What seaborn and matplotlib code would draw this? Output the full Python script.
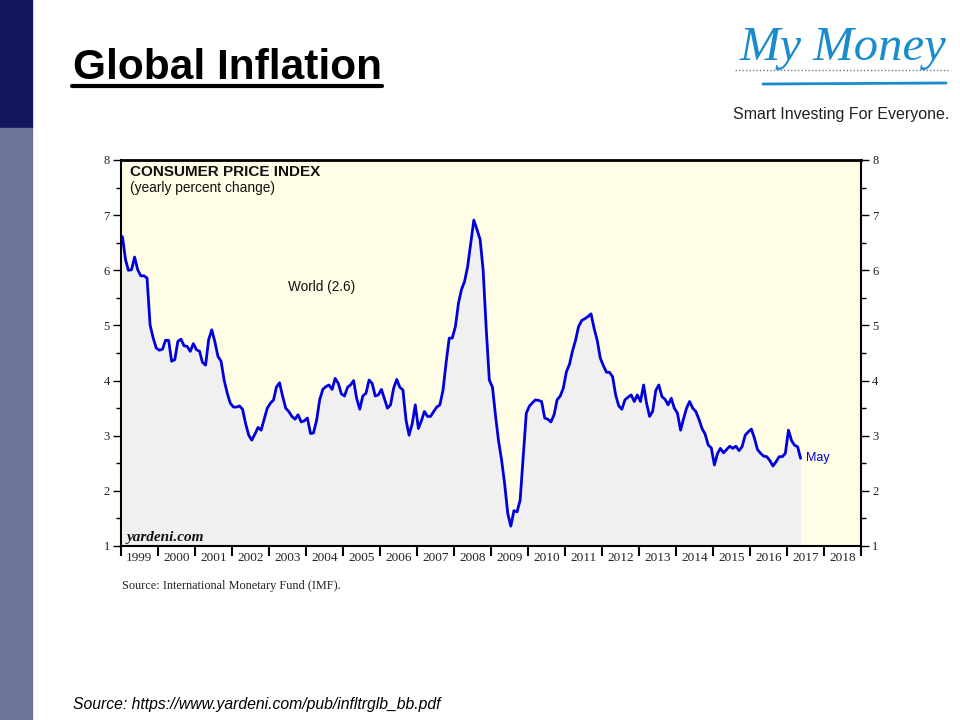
import pandas as pd
import seaborn as sns
import matplotlib.pyplot as plt
import matplotlib.dates as mdates
from matplotlib.ticker import NullFormatter, MultipleLocator
from matplotlib.lines import Line2D
from matplotlib.patches import Rectangle

#######################################
# data: world CPI, yearly percent change, monthly
#######################################
cpi_1999 = [6.61, 6.19, 6.00, 6.01, 6.24, 6.01, 5.90, 5.90, 5.86, 5.01, 4.77, 4.59]
cpi_2000 = [4.55, 4.57, 4.73, 4.73, 4.35, 4.38, 4.71, 4.75, 4.63, 4.62, 4.53, 4.67]
cpi_2001 = [4.56, 4.53, 4.33, 4.28, 4.74, 4.92, 4.71, 4.44, 4.35, 4.01, 3.77, 3.59]
cpi_2002 = [3.52, 3.52, 3.54, 3.48, 3.22, 3.01, 2.92, 3.03, 3.15, 3.10, 3.30, 3.50]
cpi_2003 = [3.59, 3.65, 3.88, 3.96, 3.72, 3.50, 3.44, 3.35, 3.30, 3.38, 3.25, 3.27]
cpi_2004 = [3.32, 3.04, 3.05, 3.28, 3.65, 3.84, 3.89, 3.92, 3.84, 4.04, 3.95, 3.76]
cpi_2005 = [3.72, 3.88, 3.92, 4.00, 3.68, 3.48, 3.72, 3.77, 4.01, 3.95, 3.72, 3.74]
cpi_2006 = [3.84, 3.66, 3.50, 3.56, 3.86, 4.02, 3.88, 3.83, 3.28, 3.01, 3.22, 3.56]
cpi_2007 = [3.13, 3.28, 3.44, 3.35, 3.35, 3.44, 3.52, 3.56, 3.83, 4.32, 4.77, 4.77]
cpi_2008 = [4.98, 5.41, 5.65, 5.80, 6.07, 6.50, 6.91, 6.74, 6.56, 6.00, 4.92, 4.01]
cpi_2009 = [3.88, 3.35, 2.92, 2.56, 2.13, 1.59, 1.36, 1.64, 1.62, 1.83, 2.62, 3.41]
cpi_2010 = [3.54, 3.60, 3.65, 3.64, 3.62, 3.32, 3.30, 3.25, 3.38, 3.65, 3.72, 3.86]
cpi_2011 = [4.16, 4.30, 4.53, 4.73, 4.98, 5.09, 5.12, 5.16, 5.21, 4.95, 4.73, 4.41]
cpi_2012 = [4.27, 4.15, 4.15, 4.07, 3.74, 3.54, 3.48, 3.65, 3.70, 3.74, 3.62, 3.74]
cpi_2013 = [3.62, 3.92, 3.60, 3.35, 3.44, 3.82, 3.92, 3.71, 3.66, 3.56, 3.68, 3.50]
cpi_2014 = [3.41, 3.10, 3.30, 3.50, 3.62, 3.50, 3.44, 3.30, 3.13, 3.03, 2.83, 2.78]
cpi_2015 = [2.47, 2.68, 2.77, 2.69, 2.75, 2.81, 2.77, 2.81, 2.73, 2.80, 3.01, 3.07]
cpi_2016 = [3.12, 2.95, 2.75, 2.68, 2.63, 2.62, 2.55, 2.45, 2.53, 2.62, 2.62, 2.68]
cpi_2017 = [3.10, 2.91, 2.83, 2.80, 2.59]  # Jan-May

cpi = (cpi_1999 + cpi_2000 + cpi_2001 + cpi_2002 + cpi_2003 + cpi_2004 + cpi_2005
       + cpi_2006 + cpi_2007 + cpi_2008 + cpi_2009 + cpi_2010 + cpi_2011 + cpi_2012
       + cpi_2013 + cpi_2014 + cpi_2015 + cpi_2016 + cpi_2017)
# monthly readings, plotted mid-month
dates = pd.date_range('1999-01-01', periods=len(cpi), freq='MS') + pd.Timedelta(days=14)
df = pd.DataFrame({'date': dates, 'cpi': cpi})

#######################################
# style
#######################################
sns.set_theme(style='white')
plt.rcParams['font.family'] = ['Liberation Serif', 'DejaVu Serif']
sans = ['Liberation Sans', 'DejaVu Sans']

fig = plt.figure(figsize=(9.6, 7.2), dpi=100)
fig.patch.set_facecolor('white')

# left slide bars
fig.patches.append(Rectangle((0, 1 - 128 / 720), 32 / 960, 128 / 720,
                             transform=fig.transFigure, color='#13185e', zorder=0))
fig.patches.append(Rectangle((0, 0), 32 / 960, 1 - 128 / 720,
                             transform=fig.transFigure, color='#6e7399', zorder=0))

# slide title
fig.text(73 / 960, 1 - 79 / 720, 'Global Inflation', family=sans, fontsize=30.5,
         fontweight='bold', color='black', va='baseline', ha='left')
fig.add_artist(Line2D([72 / 960, 382 / 960], [1 - 86 / 720, 1 - 86 / 720],
                      transform=fig.transFigure, color='black', linewidth=3))

# logo
fig.text(843 / 960, 1 - 48 / 720, 'My Money', family=['Liberation Serif', 'DejaVu Serif'],
         style='italic', fontsize=35, color='#1a8ccc', ha='center', va='center')
fig.add_artist(Line2D([735 / 960, 948 / 960], [1 - 70 / 720, 1 - 70 / 720],
                      transform=fig.transFigure, color='#777777', linewidth=1,
                      linestyle=(0, (1, 1.5))))
fig.add_artist(Line2D([763 / 960, 946 / 960], [1 - 84 / 720, 1 - 83 / 720],
                      transform=fig.transFigure, color='#1a8ccc', linewidth=2))
fig.text(841 / 960, 1 - 115 / 720, 'Smart Investing For Everyone.',
         family=sans, fontsize=11.5, color='#222222', ha='center', va='center')

#######################################
# chart
#######################################
ax = fig.add_axes([121 / 960, 1 - 546 / 720, 740 / 960, 386 / 720])
ax.set_facecolor('#fffde6')
ax.fill_between(df['date'], df['cpi'], 1, color='#f0f0f0', zorder=1, linewidth=0)
sns.lineplot(data=df, x='date', y='cpi', color='#0000dd', linewidth=2, ax=ax, zorder=3)

ax.set_xlim(pd.Timestamp('1999-01-01'), pd.Timestamp('2019-01-01'))
ax.set_ylim(1, 8)
ax.set_xlabel('')
ax.set_ylabel('')

ax.xaxis.set_major_locator(mdates.YearLocator())
ax.xaxis.set_major_formatter(NullFormatter())
ax.xaxis.set_minor_locator(mdates.YearLocator(month=7))
ax.xaxis.set_minor_formatter(mdates.DateFormatter('%Y'))
ax.tick_params(axis='x', which='major', direction='out', length=7, width=1.5,
               color='black', bottom=True)
ax.tick_params(axis='x', which='minor', length=0, labelsize=9.5, pad=4,
               labelcolor='#222222')

ax.yaxis.set_major_locator(MultipleLocator(1))
ax.yaxis.set_minor_locator(MultipleLocator(0.5))
ax.tick_params(axis='y', which='both', direction='out', left=True, right=True,
               labelleft=True, labelright=True, color='black')
ax.tick_params(axis='y', which='major', length=6, width=1, labelsize=9, pad=2,
               labelcolor='#222222')
ax.tick_params(axis='y', which='minor', length=3.5, width=1)

for side in ['left', 'right', 'top', 'bottom']:
    ax.spines[side].set_visible(True)
    ax.spines[side].set_color('black')
    ax.spines[side].set_linewidth(1.5)
ax.spines['top'].set_linewidth(2)

# annotations inside the chart
ax.text(0.012, 0.969, 'CONSUMER PRICE INDEX', transform=ax.transAxes, family=sans,
        fontsize=11, fontweight='bold', color='#111111', ha='left', va='center')
ax.text(0.012, 0.927, '(yearly percent change)', transform=ax.transAxes, family=sans,
        fontsize=9.9, color='#111111', ha='left', va='center')
ax.text(0.2257, 0.671, 'World (2.6)', transform=ax.transAxes, family=sans,
        fontsize=9.8, color='#111111', ha='left', va='center')
ax.annotate('May', xy=(df['date'].iloc[-1], df['cpi'].iloc[-1]), xytext=(4, 0),
            textcoords='offset points', family=sans, fontsize=9, color='#0000dd',
            ha='left', va='center')
ax.text(0.007, 0.023, 'yardeni.com', transform=ax.transAxes, fontsize=11,
        fontweight='bold', style='italic', color='#111111', ha='left', va='center')

# sources
fig.text(122 / 960, 1 - 586 / 720, 'Source: International Monetary Fund (IMF).',
         fontsize=8.8, color='#222222', ha='left', va='center')
fig.text(73 / 960, 1 - 705 / 720, 'Source: https://www.yardeni.com/pub/infltrglb_bb.pdf',
         family=sans, style='italic', fontsize=11.3, color='black', ha='left', va='center')

plt.savefig('out.png', dpi=100)
